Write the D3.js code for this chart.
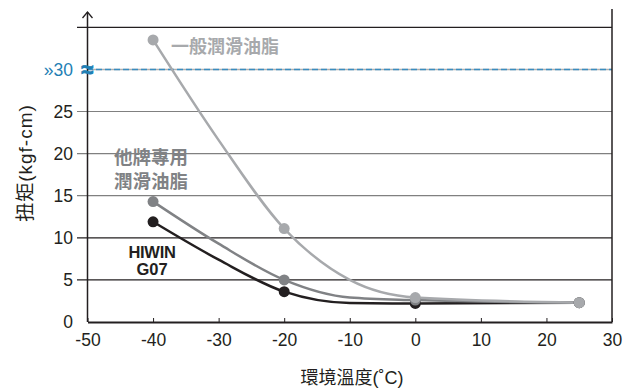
<!DOCTYPE html>
<html>
<head>
<meta charset="utf-8">
<script src="https://cdn.jsdelivr.net/npm/d3@7"></script>
<style>
  body { margin: 0; background: #fff; }
  text { font-family: "Liberation Sans", Arial, "Noto Sans CJK TC", sans-serif; }
</style>
</head>
<body>
<div id="chart"></div>
<script>
var width = 637, height = 392;

// measured points (markers)
var temps      = [-40, -20, 0, 25];
var general    = [33.5, 11.1, 2.9, 2.3];  // 一般潤滑油脂
var otherBrand = [14.3, 5.0, 2.6, 2.3];   // 他牌專用潤滑油脂
var hiwin      = [11.9, 3.6, 2.2, 2.3];   // HIWIN G07

// curve readings taken off the drawn lines
var curveTemps   = [-40, -30, -20, -10, 0, 25];
var generalCurve = [33.5, 21.6, 11.1, 5.0, 2.9, 2.3];
var otherCurve   = [14.3, 9.3, 5.0, 2.9, 2.6, 2.3];
var hiwinCurve   = [11.9, 7.4, 3.6, 2.25, 2.2, 2.3];

var xTicks = [-50, -40, -30, -20, -10, 0, 10, 20, 30];
var yTicks = [0, 5, 10, 15, 20, 25];
var gridDark = [35, 10, 5];
var gridGray = [25, 20, 15];

var svg = d3.select("#chart").append("svg")
    .attr("width", width)
    .attr("height", height);

var x = d3.scaleLinear().domain([-50, 30]).range([87.5, 612]);
var y = d3.scaleLinear().domain([0, 35]).range([322, 27.3]);

// gridlines
svg.selectAll(".gdark").data(gridDark).enter().append("line")
    .attr("x1", 77).attr("x2", 612)
    .attr("y1", function(d) { return y(d); }).attr("y2", function(d) { return y(d); })
    .attr("stroke", "#231f20").attr("stroke-width", 1.2);
svg.selectAll(".ggray").data(gridGray).enter().append("line")
    .attr("x1", 77).attr("x2", 612)
    .attr("y1", function(d) { return y(d); }).attr("y2", function(d) { return y(d); })
    .attr("stroke", "#808080").attr("stroke-width", 1.2);

// broken axis line at 30
svg.append("line")
    .attr("x1", 87).attr("x2", 612)
    .attr("y1", y(30)).attr("y2", y(30))
    .attr("stroke", "#b0b0b0").attr("stroke-width", 1.5);
svg.append("line")
    .attr("x1", 87).attr("x2", 612)
    .attr("y1", y(30)).attr("y2", y(30))
    .attr("stroke", "#3a8dc0").attr("stroke-width", 1.5)
    .attr("stroke-dasharray", "6,3");

// frame: left axis w/ arrow, right side
svg.append("line").attr("x1", x(-50)).attr("x2", x(-50)).attr("y1", 12).attr("y2", 322)
    .attr("stroke", "#231f20").attr("stroke-width", 1.5);
svg.append("path").attr("d", "M" + (x(-50) - 5) + ",18 L" + x(-50) + ",12 L" + (x(-50) + 5) + ",18")
    .attr("fill", "none").attr("stroke", "#231f20").attr("stroke-width", 1.3);
svg.append("line").attr("x1", 612).attr("x2", 612).attr("y1", 9).attr("y2", 322)
    .attr("stroke", "#231f20").attr("stroke-width", 1.5);

var xAxis = d3.axisBottom(x).tickValues(xTicks)
    .tickFormat(function(d) { return String(d); })
    .tickSizeInner(-4).tickSizeOuter(0).tickPadding(12);
var gx = svg.append("g").attr("transform", "translate(0,322)").call(xAxis);
gx.select(".domain").attr("stroke", "#231f20").attr("stroke-width", 1.8);
gx.selectAll(".tick line").attr("stroke", "#231f20");
gx.selectAll("text").attr("font-size", 17.5).attr("fill", "#231f20")
    .attr("font-family", "'Liberation Sans', Arial, sans-serif");

// y tick labels
svg.selectAll(".ylab").data(yTicks).enter().append("text")
    .attr("x", 73).attr("y", function(d) { return y(d); }).attr("dy", "0.36em")
    .attr("text-anchor", "end").attr("font-size", 17.5).attr("fill", "#231f20")
    .text(function(d) { return d; });
svg.append("text").attr("x", 73).attr("y", y(30)).attr("dy", "0.36em")
    .attr("text-anchor", "end").attr("font-size", 17.5).attr("fill", "#1f7fb5")
    .text("»30");
svg.append("text").attr("x", 87).attr("y", y(30)).attr("dy", "0.36em")
    .attr("text-anchor", "middle").attr("font-size", 22).attr("font-weight", "bold")
    .attr("fill", "#1f7fb5").attr("stroke", "#1f7fb5").attr("stroke-width", 0.8)
    .text("≈");

// axis titles
svg.append("text").attr("transform", "translate(32,163) rotate(-90)")
    .attr("text-anchor", "middle").attr("font-size", 19).attr("fill", "#231f20")
    .attr("letter-spacing", 1)
    .text("扭矩(kgf-cm)");
svg.append("text").attr("x", 352).attr("y", 384)
    .attr("text-anchor", "middle").attr("font-size", 18).attr("fill", "#231f20")
    .text("環境溫度(˚C)");

// series
var series = [
  { values: general, curve: generalCurve, color: "#a7a9ac" },
  { values: otherBrand, curve: otherCurve, color: "#808285" },
  { values: hiwin, curve: hiwinCurve, color: "#231f20" }
];
var line = d3.line()
    .x(function(d, i) { return x(curveTemps[i]); })
    .y(function(d) { return y(d); })
    .curve(d3.curveMonotoneX);

series.slice().reverse().forEach(function(s) {
  svg.append("path").datum(s.curve)
      .attr("d", line)
      .attr("fill", "none").attr("stroke", s.color).attr("stroke-width", 2.5);
});
series.slice().reverse().forEach(function(s) {
  svg.selectAll(null).data(s.values).enter().append("circle")
      .attr("cx", function(d, i) { return x(temps[i]); })
      .attr("cy", function(d) { return y(d); })
      .attr("r", 5.5).attr("fill", s.color);
});

// labels
svg.append("text").attr("x", 171).attr("y", 53)
    .attr("font-size", 18).attr("font-weight", "bold").attr("fill", "#a7a9ac")
    .attr("font-family", "'Noto Sans CJK TC', sans-serif")
    .text("一般潤滑油脂");
svg.append("text").attr("x", 151).attr("y", 164).attr("text-anchor", "middle")
    .attr("font-size", 18.5).attr("font-weight", "bold").attr("fill", "#808285")
    .attr("font-family", "'Noto Sans CJK TC', sans-serif")
    .text("他牌專用");
svg.append("text").attr("x", 151).attr("y", 188).attr("text-anchor", "middle")
    .attr("font-size", 18.5).attr("font-weight", "bold").attr("fill", "#808285")
    .attr("font-family", "'Noto Sans CJK TC', sans-serif")
    .text("潤滑油脂");
svg.append("text").attr("x", 152).attr("y", 258).attr("text-anchor", "middle")
    .attr("font-size", 16.5).attr("font-weight", "bold").attr("fill", "#231f20")
    .attr("letter-spacing", -0.3)
    .text("HIWIN");
svg.append("text").attr("x", 152).attr("y", 275).attr("text-anchor", "middle")
    .attr("font-size", 16.5).attr("font-weight", "bold").attr("fill", "#231f20")
    .text("G07");
</script>
</body>
</html>
